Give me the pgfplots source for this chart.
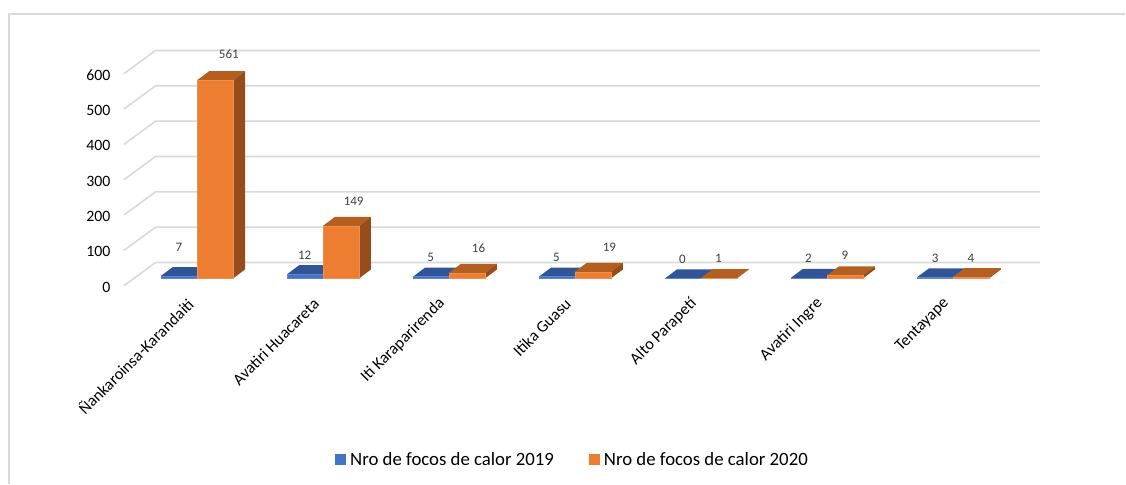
\documentclass[border=0pt]{standalone}
\usepackage{pgfplots}
\usepackage{pgfplotstable}
\pgfplotsset{compat=1.18}
\usepackage{fontspec}
\setmainfont{Carlito}
\definecolor{gridc}{HTML}{D9D9D9}
\definecolor{bluef}{HTML}{4472C4}
\definecolor{bluet}{HTML}{2F5597}
\definecolor{blues}{HTML}{2A4C88}
\definecolor{orf}{HTML}{ED7D31}
\definecolor{ort}{HTML}{B45F20}
\definecolor{ors}{HTML}{974D1B}
\definecolor{labc}{HTML}{404040}
% x left edge, value, front, top, side, edge
\newcommand{\threeDbar}[6]{%
  \pgfmathsetmacro{\xb}{#1+36}%
  \pgfmathsetmacro{\xc}{#1+12}%
  \pgfmathsetmacro{\xd}{#1+48}%
  \pgfmathsetmacro{\yd}{#2+25.4}%
  \addplot[forget plot,fill=#4,draw=none] coordinates {(#1,#2)(\xb,#2)(\xd,\yd)(\xc,\yd)} --cycle;
  \addplot[forget plot,fill=#5,draw=none] coordinates {(\xb,0)(\xd,25.4)(\xd,\yd)(\xb,#2)} --cycle;
  \addplot[forget plot,fill=#3,draw=#6,line width=0.5pt] coordinates {(#1,0)(\xb,0)(\xb,#2)(#1,#2)} --cycle;
}
\newcommand{\gridline}[1]{%
  \pgfmathsetmacro{\yf}{#1-20.6}%
  \pgfmathsetmacro{\yb}{#1+45.2}%
  \addplot[forget plot,gridc,line width=1.6pt] coordinates {(124,\yf)(155.7,\yb)(1041,\yb)};
}
\pgfplotstableread{
x y l
229 635.2 561
354 219.7 149
179 86.8 7
305 67.0 12
431 58.5 5
479 86.8 16
557 58.5 5
610 89.6 19
683 52.9 0
719 55.7 1
809 55.7 2
845.7 64.2 9
936 55.7 3
971.7 55.7 4
}\labeltable
\begin{document}
\begin{tikzpicture}
\begin{axis}[
  scale only axis, width=1126pt, height=484pt,
  xmin=0, xmax=1126, ymin=-580.4, ymax=788,
  clip=false,
  axis line style={draw=none},
  tick style={draw=none},
  axis x line*=bottom, axis y line*=left,
  /pgf/number format/assume math mode=true,
  ytick={0,100,200,300,400,500,600},
  yticklabel style={font=\fontsize{15.8}{18}\selectfont, color=black, anchor=east, xshift=114pt, yshift=-8.8pt},
  xtick={197,323,449,575,701,827,953.7},
  xticklabels={Ñankaroinsa-Karandaiti,Avatiri Huacareta,Iti Karaparirenda,Itika Guasu,Alto Parapetí,Avatiri Ingre,Tentayape},
  xticklabel style={font=\fontsize{16.4}{19}\selectfont, color=black, xshift=-4pt, yshift=185pt, anchor=east, rotate=45},
  legend style={at={(axis cs:573,-513)}, anchor=center, draw=none, fill=none, legend columns=2,
    font=\fontsize{18.8}{22}\selectfont, text=black,
    /tikz/every odd column/.append style={column sep=2pt},
    /tikz/every even column/.append style={column sep=33pt}},
  legend image code/.code={\path[#1,draw=none] (0pt,-5.5pt) rectangle (11pt,5.5pt);},
]
\addlegendimage{fill=bluef}
\addlegendentry{Nro de focos de calor 2019}
\addlegendimage{fill=orf}
\addlegendentry{Nro de focos de calor 2020}
% outer frame
\addplot[forget plot,gridc,line width=2pt] coordinates {(9.5,-580.4)(9.5,748.5)(1126,748.5)};
% grid
\gridline{0}\gridline{100}\gridline{200}\gridline{300}\gridline{400}\gridline{500}\gridline{600}
% bars: 2019 then 2020 per group
\threeDbar{161}{7}{bluef}{bluet}{blues}{bluef!85!white}
\threeDbar{197.3}{561}{orf}{ort}{ors}{orf!85!white}
\threeDbar{287.3}{12}{bluef}{bluet}{blues}{bluef!85!white}
\threeDbar{323.3}{149}{orf}{ort}{ors}{orf!85!white}
\threeDbar{413.3}{5}{bluef}{bluet}{blues}{bluef!85!white}
\threeDbar{449.3}{16}{orf}{ort}{ors}{orf!85!white}
\threeDbar{539.4}{5}{bluef}{bluet}{blues}{bluef!85!white}
\threeDbar{575.4}{19}{orf}{ort}{ors}{orf!85!white}
\threeDbar{665.5}{0}{bluef}{bluet}{blues}{bluef!85!white}
\threeDbar{701.5}{1}{orf}{ort}{ors}{orf!85!white}
\threeDbar{791.6}{2}{bluef}{bluet}{blues}{bluef!85!white}
\threeDbar{827.6}{9}{orf}{ort}{ors}{orf!85!white}
\threeDbar{917.7}{3}{bluef}{bluet}{blues}{bluef!85!white}
\threeDbar{953.7}{4}{orf}{ort}{ors}{orf!85!white}
% value labels
\addplot[forget plot,draw=none,mark=none,
  nodes near coords, point meta=explicit symbolic,
  every node near coord/.append style={anchor=center,text=labc,font=\fontsize{13}{15}\selectfont,inner sep=0pt}]
  table[x=x,y=y,meta=l] {\labeltable};
\end{axis}
\end{tikzpicture}
\end{document}
